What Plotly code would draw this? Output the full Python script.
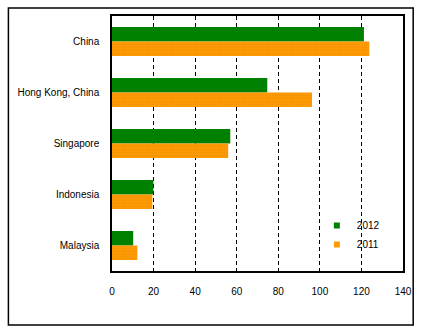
import plotly.graph_objects as go

economies = ["China", "Hong Kong, China", "Singapore", "Indonesia", "Malaysia"]
values_2012 = [121.2, 74.7, 56.9, 19.9, 10.2]
values_2011 = [123.8, 96.2, 55.9, 19.4, 12.2]
x_ticks = [0, 20, 40, 60, 80, 100, 120, 140]

FONT = "Liberation Sans, Arial, sans-serif"
GREEN = "#008000"
ORANGE = "#FF9A00"

fig = go.Figure()
fig.add_trace(go.Bar(
    y=economies, x=values_2012, name="2012", orientation="h",
    marker=dict(color=GREEN, line=dict(width=0)), showlegend=False,
))
fig.add_trace(go.Bar(
    y=economies, x=values_2011, name="2011", orientation="h",
    marker=dict(
        color=ORANGE, line=dict(width=0),
        pattern=dict(shape=".", fgcolor="#E08A10", size=3, solidity=0.35),
    ),
    showlegend=False,
))
# small square legend keys
for name, col in [("2012", GREEN), ("2011", ORANGE)]:
    fig.add_trace(go.Scatter(
        x=[None], y=[None], name=name, mode="markers",
        marker=dict(symbol="square", size=6, color=col),
    ))

fig.update_layout(
    width=424, height=332,
    margin=dict(l=112, r=21, t=16, b=61, autoexpand=False),
    paper_bgcolor="white", plot_bgcolor="white",
    barmode="group", bargap=0.43, bargroupgap=0,
    font=dict(family=FONT, size=10, color="black"),
    showlegend=True,
    legend=dict(
        x=0.704, y=0.235, xanchor="left", yanchor="top",
        bgcolor="rgba(0,0,0,0)", borderwidth=0,
        font=dict(size=10), itemwidth=30, tracegroupgap=0,
    ),
    xaxis=dict(
        range=[0, 140], tickvals=x_ticks, ticks="",
        showgrid=True, gridcolor="black", gridwidth=1, griddash="4px,3px",
        showline=True, linecolor="black", linewidth=1.5, mirror=True,
        zeroline=False, ticklabelstandoff=10, automargin=False,
    ),
    yaxis=dict(
        autorange="reversed", ticks="", showgrid=False,
        showline=True, linecolor="black", linewidth=1.5, mirror=True,
        ticklabelstandoff=9, automargin=False,
    ),
    shapes=[dict(
        type="rect", xref="paper", yref="paper",
        x0=-0.356, x1=1.035, y0=-0.212, y1=1.031,
        line=dict(color="black", width=1.5), fillcolor="rgba(0,0,0,0)",
        layer="below",
    )],
)

fig.write_html("out.html")
